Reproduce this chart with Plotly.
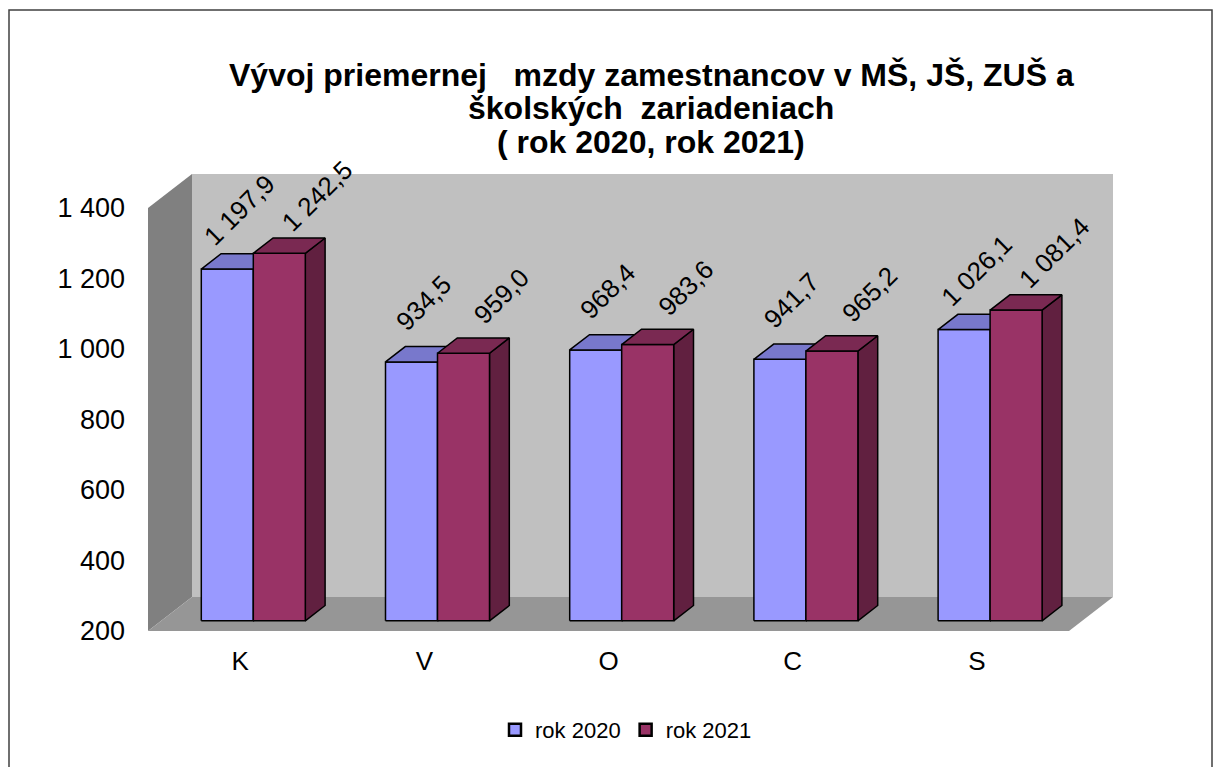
import plotly.graph_objects as go

# ---------------- data ----------------
categories = ["K", "V", "O", "C", "S"]
series_names = ["rok 2020", "rok 2021"]
values_2020 = [1197.9, 934.5, 968.4, 941.7, 1026.1]
values_2021 = [1242.5, 959.0, 983.6, 965.2, 1081.4]
y_ticks = [200, 400, 600, 800, 1000, 1200, 1400]

title_lines = ["Vývoj priemernej   mzdy zamestnancov v MŠ, JŠ, ZUŠ a",
               "školských  zariadeniach",
               "( rok 2020, rok 2021)"]

# ---------------- style / geometry ----------------
W, H = 1222, 767
ML, MR, MT, MB = 148, 109, 173, 136
plot_w = W - ML - MR
plot_h = H - MT - MB
slot_px = 921 / 5.0
y_px_per_unit = 0.3525
DX = 44 / slot_px            # depth of the 3-D box in x units
DY = 34 / y_px_per_unit      # depth of the 3-D box in y units
Y0, YMAX = 200, 1400
x_min = -0.5
x_max = x_min + plot_w / slot_px
y_top = Y0 + plot_h / y_px_per_unit

front_f = 0.30   # depth fraction where bars' front faces sit
depth_f = 0.45   # depth of a bar as a fraction of the box depth
bar_w = 52 / slot_px

front_cols = ["#9999FF", "#993366"]
top_cols = ["#7878CC", "#7A2952"]
side_cols = ["#5C5C99", "#612040"]
label_shift = [(12, 59), (38, 57)]

font_family = "Arial, Liberation Sans, sans-serif"

fig = go.Figure()


def path(pts):
    return "M " + " L ".join(f"{x},{y}" for x, y in pts) + " Z"


def px_to_paper_x(px):
    return (px - ML) / plot_w


def px_to_paper_y(py):
    return (H - MB - py) / plot_h


shapes = []
# back wall, left wall, floor
shapes.append(dict(type="path", xref="x", yref="y", layer="below",
                   path=path([(x_min + DX, Y0 + DY), (x_min + 5 + DX, Y0 + DY),
                              (x_min + 5 + DX, YMAX + DY), (x_min + DX, YMAX + DY)]),
                   fillcolor="#C0C0C0", line=dict(width=0)))
shapes.append(dict(type="path", xref="x", yref="y", layer="below",
                   path=path([(x_min, Y0), (x_min, YMAX), (x_min + DX, YMAX + DY), (x_min + DX, Y0 + DY)]),
                   fillcolor="#808080", line=dict(width=0)))
shapes.append(dict(type="path", xref="x", yref="y", layer="below",
                   path=path([(x_min, Y0), (x_min + 5, Y0), (x_min + 5 + DX, Y0 + DY), (x_min + DX, Y0 + DY)]),
                   fillcolor="#969696", line=dict(width=0)))
# outer frame
shapes.append(dict(type="rect", xref="paper", yref="paper", layer="below",
                   x0=px_to_paper_x(9), x1=px_to_paper_x(1212),
                   y0=px_to_paper_y(800), y1=px_to_paper_y(10),
                   line=dict(color="#404040", width=1.5), fillcolor="rgba(0,0,0,0)"))

annotations = []
# title lines
for k, (line, py) in enumerate(zip(title_lines, [75, 108, 142])):
    annotations.append(dict(text=f"<b>{line}</b>", xref="paper", yref="paper",
                            x=px_to_paper_x(651), y=px_to_paper_y(py),
                            xanchor="center", yanchor="middle", showarrow=False,
                            font=dict(size=32, family=font_family, color="black")))

# bars as 3-D boxes
for s, vals in enumerate([values_2020, values_2021]):
    fx, fy, tx, ty, sx, sy = [], [], [], [], [], []
    for i, v in enumerate(vals):
        c = i + front_f * DX
        x0 = c - bar_w if s == 0 else c
        x1 = x0 + bar_w
        yb = Y0 + front_f * DY
        yt = v + front_f * DY
        ddx, ddy = depth_f * DX, depth_f * DY
        fx += [x0, x1, x1, x0, x0, None]
        fy += [yb, yb, yt, yt, yb, None]
        tx += [x0, x1, x1 + ddx, x0 + ddx, x0, None]
        ty += [yt, yt, yt + ddy, yt + ddy, yt, None]
        sx += [x1, x1 + ddx, x1 + ddx, x1, x1, None]
        sy += [yb, yb + ddy, yt + ddy, yt, yb, None]
        annotations.append(dict(x=(x0 + x1) / 2, y=yt, xref="x", yref="y",
                                text=f"{v:,.1f}".replace(",", " ").replace(".", ","),
                                textangle=-45, showarrow=False,
                                xanchor="center", yanchor="middle",
                                xshift=label_shift[s][0], yshift=label_shift[s][1],
                                font=dict(size=26, color="black", family=font_family)))
    for xs, ys, col in [(sx, sy, side_cols[s]), (fx, fy, front_cols[s]), (tx, ty, top_cols[s])]:
        fig.add_trace(go.Scatter(x=xs, y=ys, mode="lines", fill="toself", fillcolor=col,
                                 line=dict(color="black", width=1.5), hoverinfo="skip",
                                 showlegend=False))
    # legend entry
    fig.add_trace(go.Bar(x=[None], y=[None], name=series_names[s],
                         marker=dict(color=front_cols[s], line=dict(color="black", width=2.5))))

fig.update_layout(
    template="none",
    width=W, height=H,
    margin=dict(l=ML, r=MR, t=MT, b=MB, autoexpand=False),
    paper_bgcolor="white", plot_bgcolor="white",
    separators=", ",
    font=dict(family=font_family, color="black"),
    xaxis=dict(range=[x_min, x_max], tickvals=list(range(len(categories))), ticktext=categories,
               showgrid=False, zeroline=False, showline=False, ticks="", automargin=False,
               tickfont=dict(size=26), ticklabelstandoff=12),
    yaxis=dict(range=[Y0, y_top], tickvals=y_ticks, tickformat=",d",
               showgrid=False, zeroline=False, showline=False, ticks="", automargin=False,
               tickfont=dict(size=27), ticklabelstandoff=22),
    legend=dict(orientation="h", x=px_to_paper_x(626), xanchor="center",
                y=px_to_paper_y(730), yanchor="middle",
                font=dict(size=22), itemwidth=30, traceorder="normal", bgcolor="rgba(0,0,0,0)"),
    shapes=shapes,
    annotations=annotations,
    showlegend=True,
)

fig.write_html("out.html", config={"displayModeBar": False},
               post_script="document.body.style.margin='0';document.body.style.overflow='hidden';")
